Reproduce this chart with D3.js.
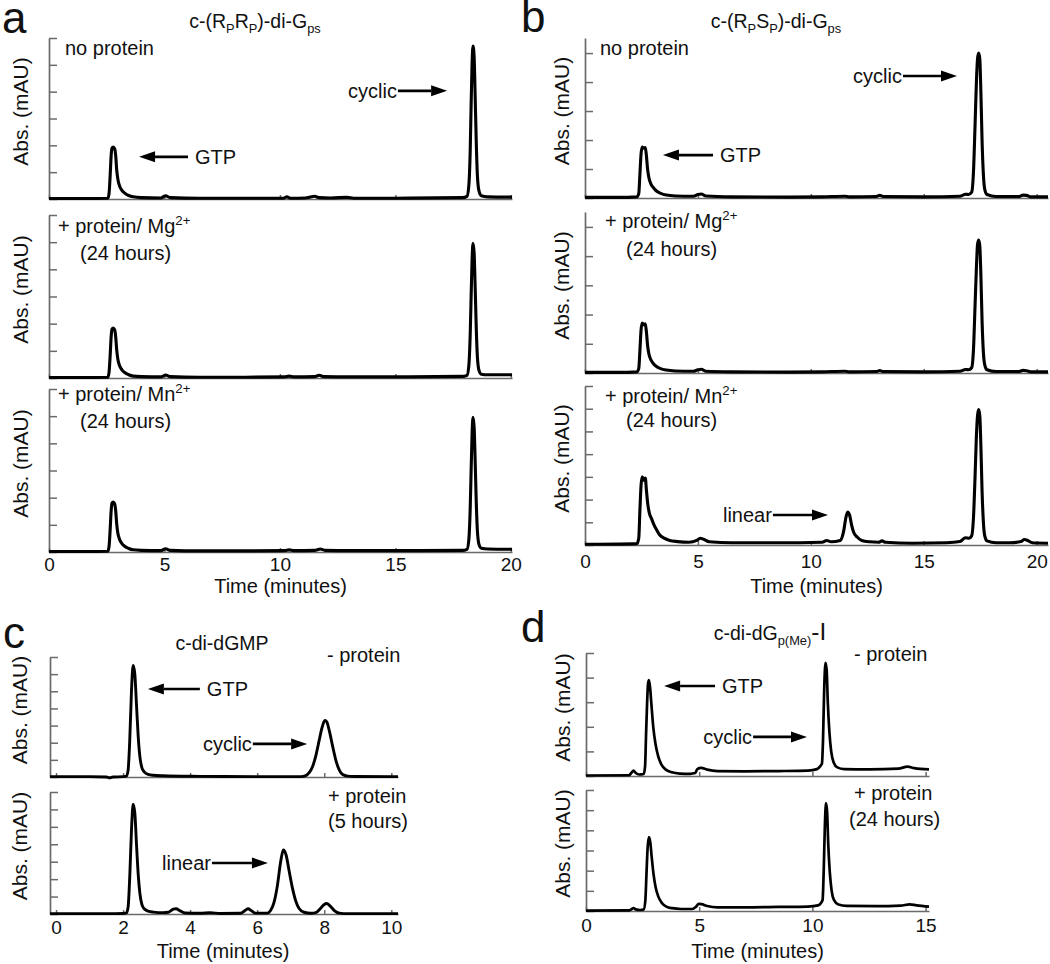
<!DOCTYPE html>
<html>
<head>
<meta charset="utf-8">
<script src="https://cdn.jsdelivr.net/npm/d3@7"></script>
<style>
	body { margin: 0; background: #fff; }
	svg { font-family: "Liberation Sans", Arial, sans-serif; }
</style>
</head>
<body>
<svg id="fig" width="1050" height="964"></svg>
<script>
// ---- tick labels ----
var xTicksAB = [0, 5, 10, 15, 20];
var xTicksC = [0, 2, 4, 6, 8, 10];
var xTicksD = [0, 5, 10, 15];
var yTicks5 = [0, 1, 2, 3, 4, 5];
var yTicks6 = [0, 1, 2, 3, 4, 5, 6];
var yTicks7 = [0, 1, 2, 3, 4, 5, 6, 7];

// ---- chromatograms, [time (min), absorbance (tick units)] ----
var traceA1 = [[0,0.02],[1.5,0.02],[2.55,0.03],[2.6,0.2],[2.65,0.9],[2.69,1.6],[2.73,1.9],[2.78,1.94],[2.84,1.88],[2.89,1.6],[2.93,1.1],[2.98,0.75],[3.05,0.5],[3.15,0.33],[3.28,0.22],[3.45,0.13],[3.65,0.08],[4.0,0.05],[4.85,0.04],[5.05,0.12],[5.25,0.05],[6.5,0.03],[8.5,0.03],[10.15,0.03],[10.3,0.08],[10.45,0.03],[11.1,0.04],[11.3,0.07],[11.5,0.1],[11.7,0.05],[12.2,0.04],[12.9,0.06],[13.2,0.03],[15,0.03],[17.9,0.05],[18.1,0.1],[18.18,0.5],[18.24,1.8],[18.28,3.5],[18.32,5.0],[18.36,5.7],[18.41,5.3],[18.45,4.0],[18.5,2.2],[18.55,0.9],[18.62,0.3],[18.72,0.12],[19.0,0.08],[20.05,0.07]];
var traceA2 = [[0,0.02],[1.5,0.02],[2.55,0.03],[2.6,0.2],[2.65,0.85],[2.69,1.5],[2.73,1.8],[2.78,1.84],[2.84,1.78],[2.89,1.5],[2.93,1.05],[2.98,0.7],[3.05,0.47],[3.15,0.31],[3.28,0.2],[3.45,0.12],[3.65,0.07],[4.0,0.05],[4.85,0.04],[5.05,0.11],[5.25,0.05],[6.5,0.03],[8.5,0.03],[10.2,0.04],[10.4,0.07],[10.6,0.04],[11.5,0.05],[11.7,0.1],[11.9,0.05],[13,0.04],[15,0.04],[17.9,0.06],[18.1,0.1],[18.18,0.45],[18.24,1.6],[18.28,3.0],[18.32,4.3],[18.36,4.96],[18.41,4.6],[18.45,3.5],[18.5,1.9],[18.55,0.8],[18.62,0.28],[18.72,0.14],[19.0,0.12],[20.05,0.12]];
var traceA3 = [[0,0.02],[1.5,0.02],[2.55,0.03],[2.6,0.2],[2.65,0.85],[2.69,1.5],[2.73,1.8],[2.78,1.84],[2.84,1.78],[2.89,1.5],[2.93,1.05],[2.98,0.7],[3.05,0.48],[3.15,0.32],[3.28,0.21],[3.45,0.13],[3.65,0.08],[4.0,0.06],[4.85,0.05],[5.05,0.12],[5.25,0.06],[6.5,0.04],[8.5,0.04],[10.2,0.05],[10.4,0.08],[10.6,0.05],[11.5,0.06],[11.75,0.11],[11.95,0.06],[13,0.05],[15,0.05],[17.9,0.06],[18.1,0.1],[18.18,0.45],[18.24,1.6],[18.28,3.0],[18.32,4.3],[18.36,4.96],[18.41,4.6],[18.45,3.5],[18.5,1.9],[18.55,0.8],[18.62,0.28],[18.72,0.14],[19.0,0.11],[20.05,0.1]];

var traceB1 = [[0,0.02],[1.5,0.02],[2.3,0.04],[2.38,0.15],[2.43,0.8],[2.48,1.5],[2.53,1.76],[2.6,1.72],[2.67,1.74],[2.72,1.45],[2.77,1.0],[2.83,0.7],[2.92,0.48],[3.0,0.38],[3.15,0.25],[3.35,0.16],[3.6,0.1],[4.0,0.07],[4.8,0.06],[5.0,0.12],[5.15,0.14],[5.35,0.07],[6.5,0.04],[9,0.03],[10.5,0.04],[11.5,0.06],[11.7,0.04],[12.9,0.05],[13.05,0.09],[13.2,0.05],[15,0.04],[16.6,0.06],[16.85,0.13],[16.98,0.12],[17.12,0.2],[17.2,0.9],[17.27,2.5],[17.33,4.0],[17.38,4.8],[17.43,5.0],[17.48,4.8],[17.53,3.6],[17.58,2.0],[17.64,0.8],[17.7,0.3],[17.8,0.12],[18.2,0.05],[19.2,0.05],[19.4,0.1],[19.55,0.09],[19.75,0.04],[20.5,0.04]];
var traceB2 = [[0,0.02],[1.5,0.02],[2.3,0.04],[2.38,0.15],[2.43,0.75],[2.48,1.45],[2.53,1.71],[2.6,1.65],[2.67,1.68],[2.72,1.4],[2.77,0.95],[2.83,0.65],[2.92,0.45],[3.0,0.35],[3.15,0.23],[3.35,0.15],[3.6,0.1],[4.0,0.07],[4.8,0.06],[5.0,0.11],[5.15,0.13],[5.35,0.06],[6.5,0.04],[9,0.03],[10.5,0.04],[11.5,0.06],[11.7,0.04],[12.9,0.05],[13.05,0.08],[13.2,0.05],[15,0.04],[16.6,0.06],[16.85,0.12],[16.98,0.11],[17.12,0.18],[17.2,0.8],[17.27,2.3],[17.33,3.6],[17.38,4.4],[17.43,4.55],[17.48,4.35],[17.53,3.3],[17.58,1.8],[17.64,0.7],[17.7,0.28],[17.8,0.11],[18.2,0.05],[19.2,0.05],[19.4,0.09],[19.55,0.08],[19.75,0.04],[20.5,0.04]];
var traceB3 = [[0,0.03],[1.5,0.04],[2.3,0.06],[2.38,0.3],[2.43,1.5],[2.48,2.6],[2.53,3.0],[2.6,2.85],[2.67,2.95],[2.72,2.4],[2.78,1.8],[2.85,1.4],[2.95,1.15],[3.05,0.9],[3.15,0.7],[3.3,0.45],[3.5,0.3],[3.75,0.2],[4.1,0.15],[4.6,0.12],[4.95,0.2],[5.1,0.3],[5.25,0.25],[5.5,0.14],[6.5,0.1],[8,0.1],[9.5,0.1],[10.5,0.12],[10.7,0.2],[10.9,0.14],[11.3,0.2],[11.45,0.6],[11.55,1.2],[11.63,1.45],[11.72,1.3],[11.8,0.9],[11.9,0.55],[12.05,0.35],[12.25,0.2],[12.6,0.14],[13.0,0.12],[13.15,0.18],[13.3,0.12],[14.5,0.08],[16.0,0.1],[16.6,0.15],[16.85,0.32],[17.0,0.3],[17.12,0.4],[17.2,1.2],[17.27,3.0],[17.33,4.8],[17.38,5.7],[17.43,5.96],[17.48,5.7],[17.53,4.3],[17.58,2.4],[17.64,1.0],[17.7,0.4],[17.8,0.18],[18.2,0.1],[18.8,0.1],[19.3,0.15],[19.45,0.24],[19.6,0.2],[19.8,0.1],[20.5,0.08]];

var traceC1 = [[-0.18,0.02],[1.0,0.02],[1.5,0.0],[1.6,-0.05],[1.7,0.0],[2.0,0.02],[2.1,0.05],[2.15,0.4],[2.2,2.2],[2.25,5.0],[2.3,6.5],[2.35,6.0],[2.4,4.2],[2.45,2.4],[2.5,1.2],[2.56,0.55],[2.63,0.3],[2.75,0.15],[2.9,0.1],[3.2,0.07],[4.0,0.04],[5,0.03],[6,0.02],[7.3,0.02],[7.45,0.08],[7.55,0.25],[7.65,0.6],[7.75,1.25],[7.85,2.15],[7.93,2.85],[8.0,3.25],[8.03,3.3],[8.08,3.2],[8.15,2.7],[8.25,1.8],[8.35,0.95],[8.45,0.4],[8.55,0.14],[8.7,0.05],[8.9,0.03],[10.2,0.02]];
var traceC2 = [[-0.18,0.02],[1.5,0.02],[2.0,0.03],[2.1,0.06],[2.15,0.4],[2.2,2.2],[2.25,4.8],[2.3,6.3],[2.35,5.8],[2.4,4.0],[2.45,2.3],[2.5,1.2],[2.56,0.55],[2.63,0.3],[2.75,0.16],[2.9,0.11],[3.2,0.08],[3.35,0.1],[3.5,0.28],[3.58,0.3],[3.7,0.18],[3.85,0.06],[4.3,0.04],[4.6,0.07],[4.9,0.03],[5.5,0.04],[5.65,0.22],[5.73,0.3],[5.82,0.2],[5.95,0.05],[6.3,0.05],[6.4,0.2],[6.5,0.65],[6.6,1.6],[6.7,3.0],[6.78,3.68],[6.86,3.4],[6.95,2.5],[7.05,1.5],[7.15,0.75],[7.25,0.32],[7.4,0.1],[7.6,0.04],[7.75,0.08],[7.88,0.3],[8.0,0.55],[8.07,0.6],[8.18,0.45],[8.3,0.2],[8.45,0.05],[8.7,0.02],[10.2,0.02]];

var traceD1 = [[0,0.02],[1.9,0.03],[2.0,0.12],[2.1,0.22],[2.2,0.12],[2.35,0.06],[2.55,0.08],[2.61,0.4],[2.65,1.6],[2.7,3.0],[2.74,3.75],[2.78,3.9],[2.83,3.6],[2.89,2.9],[2.97,2.0],[3.07,1.3],[3.19,0.8],[3.34,0.45],[3.54,0.25],[3.79,0.15],[4.14,0.1],[4.6,0.09],[4.82,0.12],[4.92,0.28],[5.08,0.33],[5.35,0.26],[5.8,0.2],[7,0.19],[8.5,0.2],[9.8,0.22],[10.2,0.28],[10.35,0.4],[10.42,0.5],[10.47,1.5],[10.52,3.5],[10.58,4.6],[10.63,4.3],[10.68,3.0],[10.75,1.8],[10.83,1.0],[10.94,0.55],[11.1,0.35],[11.4,0.28],[12.5,0.27],[13.8,0.3],[14.2,0.38],[14.5,0.32],[15.15,0.27]];
var traceD2 = [[0,0.02],[1.9,0.03],[2.02,0.1],[2.1,0.15],[2.2,0.08],[2.4,0.05],[2.55,0.08],[2.62,0.5],[2.67,1.8],[2.72,3.1],[2.78,3.66],[2.84,3.4],[2.9,2.7],[2.98,1.85],[3.08,1.15],[3.2,0.7],[3.35,0.4],[3.55,0.22],[3.8,0.14],[4.2,0.1],[4.7,0.1],[4.85,0.2],[4.98,0.35],[5.1,0.34],[5.35,0.25],[5.8,0.18],[7,0.18],[8.5,0.2],[9.8,0.22],[10.25,0.28],[10.38,0.4],[10.45,0.55],[10.5,2.0],[10.55,4.2],[10.6,5.35],[10.65,4.9],[10.7,3.3],[10.77,1.9],[10.85,1.0],[10.95,0.55],[11.15,0.32],[11.5,0.25],[12.8,0.24],[13.9,0.27],[14.3,0.33],[14.6,0.28],[15.15,0.22]];

// ---- peak labels, arrow from tail to tip at height v (data units) ----
var arrowsA1 = [{label: "GTP", tail: 6.02, tip: 3.9, v: 1.57}, {label: "cyclic", tail: 15.11, tip: 17.24, v: 4.03}];
var arrowsB1 = [{label: "GTP", tail: 5.67, tip: 3.45, v: 1.48}, {label: "cyclic", tail: 14.08, tip: 16.47, v: 4.21}];
var arrowsB3 = [{label: "linear", tail: 8.32, tip: 10.76, v: 1.32}];
var arrowsC1 = [{label: "GTP", tail: 4.29, tip: 2.74, v: 5.13}, {label: "cyclic", tail: 5.87, tip: 7.49, v: 1.93}];
var arrowsC2 = [{label: "linear", tail: 4.65, tip: 6.32, v: 2.93}];
var arrowsD1 = [{label: "GTP", tail: 5.70, tip: 3.45, v: 3.66}, {label: "cyclic", tail: 7.38, tip: 9.76, v: 1.59}];

// ---- texts (pieces: plain / sub / sup) ----
var titleA = [["c-(R"], ["P", "sub"], ["R"], ["P", "sub"], [")-di-G"], ["ps", "sub"]];
var titleB = [["c-(R"], ["P", "sub"], ["S"], ["P", "sub"], [")-di-G"], ["ps", "sub"]];
var titleC = [["c-di-dGMP"]];
var titleD = [["c-di-dG"], ["p(Me)", "sub"], ["-I", "big"]];
var condNo = [["no protein"]];
var condMg = [["+ protein/ Mg"], ["2+", "sup"]];
var condMn = [["+ protein/ Mn"], ["2+", "sup"]];
var cond24 = [["(24 hours)"]];
var condMinus = [["- protein"]];
var condPlus = [["+ protein"]];
var cond5 = [["(5 hours)"]];

var yLabel = "Abs. (mAU)";
var xLabel = "Time (minutes)";

// ---- layout ----
var colA = {left: 49, right: 512, xDomain: [0, 20.05], xTicks: xTicksAB, yLabelX: 28, tickPad: 6, titleY: 593, stroke: 3.1};
var colB = {left: 585, right: 1048, xDomain: [0, 20.5], xTicks: xTicksAB, yLabelX: 569, tickPad: 10, titleY: 593, stroke: 3.1};
var colC = {left: 50, right: 398, xDomain: [-0.18, 10.2], xTicks: xTicksC, yLabelX: 27, tickPad: 7, titleY: 958, stroke: 2.9};
var colD = {left: 586, right: 929, xDomain: [0, 15.15], xTicks: xTicksD, yLabelX: 570, tickPad: 8, titleY: 958, stroke: 2.7};

var plots = [
	{col: colA, trace: traceA1, top: 38, bottom: 199, yTop: 6, yTicks: yTicks6, arrows: arrowsA1,
		notes: [{parts: condNo, x: 65, y: 55}]},
	{col: colA, trace: traceA2, top: 215, bottom: 378, yTop: 6, yTicks: yTicks6, arrows: [],
		notes: [{parts: condMg, x: 58, y: 233}, {parts: cond24, x: 80, y: 260}]},
	{col: colA, trace: traceA3, top: 389, bottom: 552, yTop: 6, yTicks: yTicks6, arrows: [], showX: true,
		notes: [{parts: condMn, x: 58, y: 401}, {parts: cond24, x: 80, y: 428}]},
	{col: colB, trace: traceB1, top: 38, bottom: 198, yTop: 5.52, yTicks: yTicks5, arrows: arrowsB1,
		notes: [{parts: condNo, x: 600, y: 55}]},
	{col: colB, trace: traceB2, top: 212, bottom: 373, yTop: 5.51, yTicks: yTicks5, arrows: [],
		notes: [{parts: condMg, x: 605, y: 228}, {parts: cond24, x: 626, y: 256}]},
	{col: colB, trace: traceB3, top: 386, bottom: 545, yTop: 7, yTicks: yTicks7, arrows: arrowsB3, showX: true,
		notes: [{parts: condMn, x: 605, y: 403}, {parts: cond24, x: 626, y: 427}]},
	{col: colC, trace: traceC1, top: 657, bottom: 777, yTop: 7, yTicks: yTicks7, arrows: arrowsC1,
		notes: [{parts: condMinus, x: 327, y: 662}]},
	{col: colC, trace: traceC2, top: 792, bottom: 914, yTop: 7, yTicks: yTicks7, arrows: arrowsC2, showX: true,
		notes: [{parts: condPlus, x: 328, y: 803}, {parts: cond5, x: 328, y: 828}]},
	{col: colD, trace: traceD1, top: 653, bottom: 776, yTop: 5, yTicks: yTicks5, arrows: arrowsD1,
		notes: [{parts: condMinus, x: 854, y: 661}]},
	{col: colD, trace: traceD2, top: 790, bottom: 911, yTop: 6, yTicks: yTicks6, arrows: [], showX: true,
		notes: [{parts: condPlus, x: 854, y: 800}, {parts: cond24, x: 849, y: 826}]}
];

var svg = d3.select("#fig");
var AXIS = "#6a6a6a";
var FONT = 20;

// writes pieces with sub/superscripts into a text element
function richText(text, parts, size) {
	var shift = 0;
	parts.forEach(function(p) {
		var kind = p[1] || "";
		var target = kind === "sub" ? 5 : (kind === "sup" ? -8 : 0);
		var fs = (kind === "sub" || kind === "sup") ? size * 0.66 : (kind === "big" ? size * 1.25 : size);
		text.append("tspan")
			.attr("dy", target - shift)
			.attr("font-size", fs)
			.text(p[0]);
		shift = target;
	});
	return text;
}

function drawPlot(p) {
	var c = p.col;
	var g = svg.append("g");
	var x = d3.scaleLinear().domain(c.xDomain).range([c.left, c.right]);
	var y = d3.scaleLinear().domain([0, p.yTop]).range([p.bottom, p.top]);

	// y axis, ticks pointing into the plot, no numbers
	var ya = g.append("g")
		.attr("transform", "translate(" + c.left + ",0)")
		.call(d3.axisRight(y).tickValues(p.yTicks).tickSize(8).tickSizeOuter(0).tickFormat(""));

	// x axis on the baseline, small up-ticks
	var xAxis = d3.axisBottom(x).tickValues(c.xTicks).tickSizeInner(-4).tickSizeOuter(0).tickPadding(c.tickPad);
	if (!p.showX) xAxis.tickFormat("");
	var xa = g.append("g")
		.attr("transform", "translate(0," + p.bottom + ")")
		.call(xAxis);

	[ya, xa].forEach(function(a) {
		a.attr("font-family", null).attr("font-size", null);
		a.select(".domain").attr("stroke", AXIS).attr("stroke-width", 1.7);
		a.selectAll(".tick line").attr("stroke", AXIS).attr("stroke-width", 1.5);
		a.selectAll(".tick text").attr("fill", "#111").attr("font-size", 19);
	});

	// the trace
	var line = d3.line()
		.x(function(d) { return x(d[0]); })
		.y(function(d) { return y(d[1]); })
		.curve(d3.curveMonotoneX);
	g.append("path")
		.datum(p.trace)
		.attr("d", line)
		.attr("fill", "none")
		.attr("stroke", "#000")
		.attr("stroke-width", c.stroke)
		.attr("stroke-linejoin", "round");

	// y label
	g.append("text")
		.attr("transform", "translate(" + c.yLabelX + "," + ((p.top + p.bottom) / 2 - 7) + ") rotate(-90)")
		.attr("text-anchor", "middle")
		.attr("font-size", 21)
		.attr("fill", "#111")
		.text(yLabel);

	// condition notes
	p.notes.forEach(function(n) {
		var t = g.append("text").attr("x", n.x).attr("y", n.y).attr("fill", "#111");
		richText(t, n.parts, FONT);
	});

	// arrows
	p.arrows.forEach(function(a) {
		var x1 = x(a.tail), x2 = x(a.tip), yy = y(a.v);
		var dir = x2 > x1 ? 1 : -1;
		var head = 16;
		g.append("line")
			.attr("x1", x1).attr("y1", yy)
			.attr("x2", x2 - dir * head).attr("y2", yy)
			.attr("stroke", "#000").attr("stroke-width", 2.6);
		g.append("path")
			.attr("d", "M" + x2 + "," + yy + "L" + (x2 - dir * head) + "," + (yy - 5.5) + "L" + (x2 - dir * head) + "," + (yy + 5.5) + "Z")
			.attr("fill", "#000");
		g.append("text")
			.attr("x", dir > 0 ? x1 - 1 : x1 + 7)
			.attr("y", yy)
			.attr("dy", "0.36em")
			.attr("text-anchor", dir > 0 ? "end" : "start")
			.attr("font-size", FONT)
			.attr("fill", "#111")
			.text(a.label);
	});

	// x title under the bottom plot of each column
	if (p.showX) {
		g.append("text")
			.attr("x", (c.left + c.right) / 2 + (c === colC ? -1 : 0))
			.attr("y", c.titleY)
			.attr("text-anchor", "middle")
			.attr("font-size", FONT)
			.attr("fill", "#111")
			.text(xLabel);
	}
}

plots.forEach(drawPlot);

// panel titles
var titles = [
	{parts: titleA, x: 255, y: 28},
	{parts: titleB, x: 776, y: 28},
	{parts: titleC, x: 222, y: 650},
	{parts: titleD, x: 770, y: 640}
];
titles.forEach(function(t) {
	var el = svg.append("text").attr("x", t.x).attr("y", t.y).attr("text-anchor", "middle").attr("fill", "#111");
	richText(el, t.parts, 19.5);
});

// panel letters
var letters = [
	{s: "a", x: 2, y: 33},
	{s: "b", x: 521, y: 32},
	{s: "c", x: 3, y: 648},
	{s: "d", x: 521, y: 642}
];
svg.selectAll("text.letter")
	.data(letters)
	.enter().append("text")
	.attr("class", "letter")
	.attr("x", function(d) { return d.x; })
	.attr("y", function(d) { return d.y; })
	.attr("font-size", 44)
	.attr("fill", "#111")
	.text(function(d) { return d.s; });
</script>
</body>
</html>
